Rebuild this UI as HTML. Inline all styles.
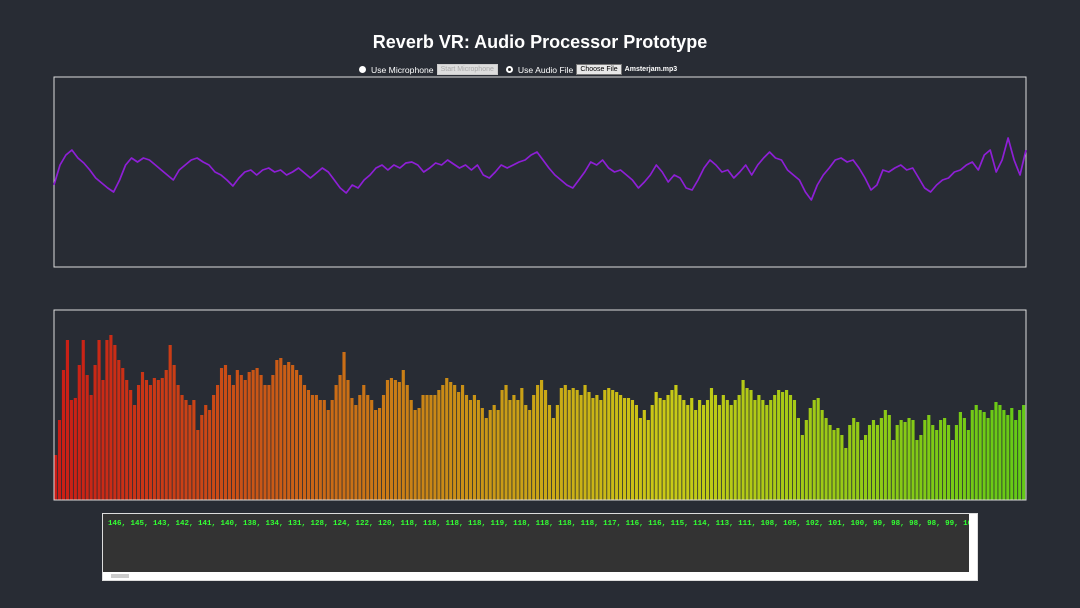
<!DOCTYPE html>
<html><head><meta charset="utf-8">
<style>
html,body{margin:0;padding:0;background:#282c34;width:1080px;height:608px;overflow:hidden;font-family:"Liberation Sans",sans-serif;color:#fff}
h1{position:absolute;left:0;width:1080px;top:32px;margin:0;text-align:center;font-size:18px;font-weight:bold}
.ctrl{position:absolute;top:64px;left:359px;font-size:8.6px;display:flex;align-items:center;white-space:nowrap}
.radio{width:7px;height:7px;border-radius:50%;background:#fff;display:inline-block;margin-right:5px}
.radio.on{background:#fff;position:relative}
.radio.on::after{content:"";position:absolute;left:2px;top:2px;width:3px;height:3px;border-radius:50%;background:#222}
.btn{display:inline-block;font-size:7px;padding:1px 3px;border:1px solid #aaa;margin:0 3px}
svg{position:absolute;left:0;top:0}
.box{position:absolute;left:102px;top:513px;width:874px;height:66px;background:#333;border:1px solid #ddd}
.txt{position:absolute;left:5px;top:6px;font-family:"Liberation Mono",monospace;font-size:7.5px;font-weight:bold;color:#3f3;white-space:nowrap;overflow:hidden;width:862px}
.hs{position:absolute;left:0;bottom:0;width:866px;height:8px;background:#fff}
.vs{position:absolute;right:0;top:0;width:8px;height:66px;background:#fff}
</style></head><body>
<h1>Reverb VR: Audio Processor Prototype</h1>
<div class="ctrl">
<span class="radio"></span><span>Use Microphone</span>
<span class="btn" style="background:#ddd;color:#aaa;border-color:#ccc">Start Microphone</span>
<span class="radio on" style="margin-left:5px"></span><span>Use Audio File</span>
<span class="btn" style="background:#e8e8e8;color:#000;border-color:#777">Choose File</span>
<span style="font-size:7px;font-weight:bold">Amsterjam.mp3</span>
</div>
<svg id="chart" width="1080" height="608">
<rect x="54" y="77" width="972" height="190" fill="none" stroke="#ddd" stroke-width="1"/>
<g id="wave"></g>
<g id="bars"></g>
<rect x="54" y="310" width="972" height="190" fill="none" stroke="#ddd" stroke-width="1"/>
</svg>
<div class="box">
<div class="txt">146, 145, 143, 142, 141, 140, 138, 134, 131, 128, 124, 122, 120, 118, 118, 118, 118, 119, 118, 118, 118, 118, 117, 116, 116, 115, 114, 113, 111, 108, 105, 102, 101, 100, 99, 98, 98, 98, 99, 100, 99, 99, 100, 102, 101</div>
<div class="vs"></div>
<div class="hs"><div style="position:absolute;left:8px;top:2px;width:18px;height:4px;background:#ccc"></div></div>
</div>
<script>
const waveSamples=[-13,7,17,22,14,9,2,-6,-11,-16,-20,-8,7,14,10,14,12,7,2,-3,-8,2,7,12,14,10,7,0,-3,-8,-14,-6,0,2,-3,2,4,0,2,-3,0,4,-1,-6,-1,4,0,-8,-16,-21,-13,-16,-8,-3,4,7,2,7,4,9,10,7,0,4,9,7,12,8,4,7,2,7,-3,-6,0,7,4,7,10,12,17,20,12,4,-3,-8,-13,-16,-8,0,10,7,12,4,0,2,-3,-8,-16,-10,-3,7,0,-10,-3,-6,-16,-18,-8,4,12,7,0,2,-6,0,7,-3,7,14,20,14,12,2,-3,-8,-20,-28,-13,-3,4,12,14,10,12,4,-6,-18,-13,2,0,4,7,2,4,-6,-16,-20,-13,-8,-6,0,2,7,10,2,17,22,0,12,34,12,-3,22];
const spectrumValues=[45,80,130,160,100,102,135,160,125,105,135,160,120,160,165,155,140,132,120,110,95,115,128,120,115,122,120,122,130,155,135,115,105,100,95,100,70,85,95,90,105,115,132,135,125,115,130,125,120,128,130,132,125,115,115,125,140,142,135,138,135,130,125,115,110,105,105,100,100,90,100,115,125,148,120,102,95,105,115,105,100,90,92,105,120,122,120,118,130,115,100,90,92,105,105,105,105,110,115,122,118,115,108,115,105,100,105,100,92,82,90,95,90,110,115,100,105,100,112,95,90,105,115,120,110,95,82,95,112,115,110,112,110,105,115,108,102,105,100,110,112,110,108,105,102,102,100,95,82,90,80,95,108,102,100,105,110,115,105,100,95,102,90,100,95,100,112,105,95,105,100,95,100,105,120,112,110,100,105,100,95,100,105,110,108,110,105,100,82,65,80,92,100,102,90,82,75,70,72,65,52,75,82,78,60,65,75,80,75,82,90,85,60,75,80,78,82,80,60,65,80,85,75,70,80,82,75,60,75,88,82,70,90,95,90,88,82,90,98,95,90,85,92,80,90,95];
const NS="http://www.w3.org/2000/svg";
const W0=54,W1=1026,wc=172;
function wx(i){return W0+i*(W1-W0)/(waveSamples.length-1);}
function wy(v){return wc-v;}
const p=document.createElementNS(NS,"path");
p.setAttribute("d",waveSamples.map((v,i)=>(i?"L":"M")+wx(i).toFixed(1)+" "+wy(v)).join(""));
p.setAttribute("fill","none");p.setAttribute("stroke","#8e1fd6");p.setAttribute("stroke-width","1.7");p.setAttribute("stroke-linejoin","round");


document.getElementById("wave").appendChild(p);
const B=500,n=spectrumValues.length,bw=(W1-W0)/n;
function bx(i){return W0+i*bw;}
function bh(v){return v;}
const g=document.getElementById("bars");
spectrumValues.forEach((v,i)=>{
 const r=document.createElementNS(NS,"rect");
 r.setAttribute("x",bx(i));r.setAttribute("y",B-bh(v));r.setAttribute("width",bw*0.8);r.setAttribute("height",bh(v));
 const t=i/(n-1);const hue=2+t*92;
 r.setAttribute("fill","hsl("+hue+",80%,44%)");
 
 
 g.appendChild(r);
});
</script>
</body></html>
